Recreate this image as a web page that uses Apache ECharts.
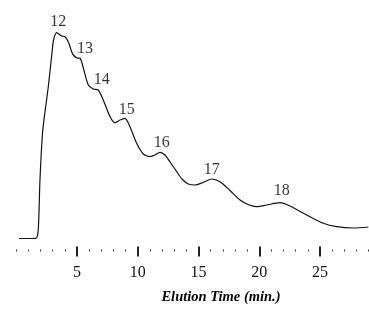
<!DOCTYPE html>
<html>
<head>
<meta charset="utf-8">
<script src="https://cdn.jsdelivr.net/npm/echarts@6/dist/echarts.min.js"></script>
<style>
  html, body { margin: 0; padding: 0; background: #fff; }
  #chart { width: 369px; height: 309px; }
</style>
</head>
<body>
<div id="chart"></div>
<script>
// elution time (min) and detector signal
const times = [0.23, 1.6, 1.81, 1.95, 2.18, 2.64, 2.94, 3.07, 3.33, 3.74, 4.01, 4.28, 4.56, 4.7,
  5.0, 5.25, 5.52, 5.93, 6.34, 6.75, 7.16, 7.72, 8.13, 8.54, 8.95, 9.36, 9.91, 10.46, 11.0,
  11.42, 11.83, 12.24, 12.66, 13.21, 13.64, 14.16, 14.71, 15.37, 16.09, 16.77, 17.59, 18.42,
  19.07, 19.79, 20.61, 21.71, 22.53, 23.91, 25.27, 26.37, 27.74, 28.98];
const signal = [0, 0.2, 8.5, 58, 108, 152, 185.5, 198.5, 205.8, 202.5, 201.8, 196.8, 186.8, 183.5,
  180.5, 180.2, 170.5, 153.5, 149.5, 148.5, 138.5, 121.8, 115.8, 118.5, 120.2, 111.8, 95.2, 84.5, 82,
  83.5, 86.2, 83.5, 76.5, 66.8, 59.5, 54.5, 53.5, 56, 59.5, 56.8, 48, 38.5,
  34, 31.8, 33.5, 35.8, 32.5, 23.5, 15.2, 11.8, 10.5, 11.5];

// fraction labels over the peaks / shoulders
const peakNames = ['12', '13', '14', '15', '16', '17', '18'];
const peakTimes = [3.46, 5.66, 7.03, 9.09, 11.97, 16.09, 21.85];
const peakLabelY = [216.8, 190.2, 158.5, 128.5, 95.8, 69.2, 47.5];

const majorTicks = [5, 10, 15, 20, 25];

const serif = '"Liberation Serif", "DejaVu Serif", serif';
const chart = echarts.init(document.getElementById('chart'));

chart.setOption({
  animation: false,
  grid: { left: 16.25, right: 0.4, top: 18.5, bottom: 70.5 },
  xAxis: [
    {
      // minute dots
      type: 'value', min: 0, max: 29, interval: 1, position: 'bottom', offset: 11,
      axisLine: { show: false, onZero: false },
      axisTick: { show: true, length: 2, lineStyle: { color: '#333', width: 1 } },
      axisLabel: { show: false },
      splitLine: { show: false }
    },
    {
      // major ticks with labels
      type: 'value', min: 0, max: 29, position: 'bottom', offset: 8,
      axisLine: { show: false, onZero: false },
      axisTick: { show: true, length: 10, customValues: majorTicks, lineStyle: { color: '#222', width: 2 } },
      axisLabel: {
        show: true, customValues: majorTicks, margin: 18,
        fontFamily: serif, fontSize: 16, color: '#111'
      },
      splitLine: { show: false }
    }
  ],
  yAxis: { type: 'value', min: 0, max: 220, show: false },
  graphic: [{
    type: 'text', x: 221, y: 297,
    style: {
      text: 'Elution Time (min.)', fill: '#000',
      font: 'italic bold 14.5px "Liberation Serif", serif',
      textAlign: 'center', textVerticalAlign: 'middle'
    }
  }],
  series: [
    {
      type: 'line', xAxisIndex: 0,
      data: times.map((t, i) => [t, signal[i]]),
      smooth: 0.25, symbol: 'none',
      lineStyle: { color: '#111', width: 1.2 }
    },
    {
      type: 'scatter', xAxisIndex: 0, symbolSize: 0, silent: true,
      data: peakNames.map((n, i) => ({ value: [peakTimes[i], peakLabelY[i]], name: n })),
      label: {
        show: true, position: 'inside', formatter: '{b}',
        fontFamily: serif, fontSize: 16, color: '#000'
      }
    }
  ]
});
</script>
</body>
</html>
